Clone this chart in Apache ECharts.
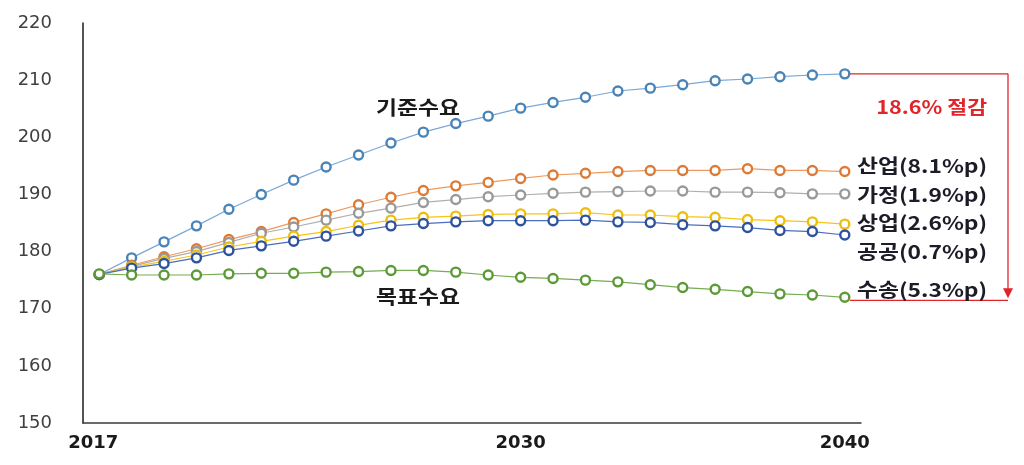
<!DOCTYPE html>
<html>
<head>
<meta charset="utf-8">
<script src="https://cdn.jsdelivr.net/npm/echarts@6/dist/echarts.min.js"></script>
<style>
html,body{margin:0;padding:0;background:#fff;}
#main{width:1024px;height:465px;}
</style>
</head>
<body>
<div id="main"></div>
<script>
const years = [2017,2018,2019,2020,2021,2022,2023,2024,2025,2026,2027,2028,2029,2030,2031,2032,2033,2034,2035,2036,2037,2038,2039,2040].map(String);
const shownYears = ['2017','2030','2040'];
const baseline = [176.0,178.9,181.7,184.5,187.4,190.0,192.5,194.8,196.9,199.0,200.9,202.4,203.7,205.1,206.1,207.0,208.1,208.6,209.2,209.9,210.2,210.6,210.9,211.1];
const industry = [176.0,177.6,179.1,180.5,182.1,183.5,185.1,186.6,188.2,189.5,190.7,191.5,192.1,192.8,193.4,193.7,194.0,194.2,194.2,194.2,194.5,194.2,194.2,194.0];
const household = [176.0,177.4,178.8,180.0,181.6,183.2,184.3,185.5,186.7,187.6,188.6,189.1,189.6,189.9,190.2,190.4,190.5,190.6,190.6,190.4,190.4,190.3,190.1,190.1];
const commercial = [176.0,177.3,178.3,179.4,180.8,181.8,182.7,183.5,184.6,185.5,186.0,186.2,186.5,186.6,186.6,186.8,186.4,186.4,186.1,186.0,185.6,185.4,185.2,184.8];
const publicSec = [176.0,177.1,177.9,178.9,180.2,181.0,181.8,182.7,183.6,184.5,184.9,185.2,185.4,185.4,185.4,185.5,185.2,185.1,184.7,184.5,184.2,183.7,183.5,182.9];
const target = [176.1,175.9,175.9,175.9,176.1,176.2,176.2,176.4,176.5,176.7,176.7,176.4,175.9,175.5,175.3,175.0,174.7,174.2,173.7,173.4,173.0,172.6,172.4,172.0];
const yTicks = {min:150, max:220, interval:10};
const rightLabels = ['산업(8.1%p)','가정(1.9%p)','상업(2.6%p)','공공(0.7%p)','수송(5.3%p)'];
const reductionText = '18.6% 절감';

const KR = '"Noto Sans CJK KR", "Noto Sans", sans-serif';
function mk(name, data, line, border){
  return {
    name, type:'line', data, symbol:'circle', symbolSize:9,
    lineStyle:{color:line, width:1.2},
    itemStyle:{color:'#ffffff', borderColor:border, borderWidth:2.4},
    emphasis:{disabled:true}, animation:false
  };
}
const chart = echarts.init(document.getElementById('main'));
chart.setOption({
  animation:false,
  backgroundColor:'#fff',
  grid:{left:83, right:163, top:23, bottom:42, containLabel:false},
  xAxis:{
    type:'category', data:years, boundaryGap:true,
    axisLine:{lineStyle:{color:'#3a3a3a', width:1.5}},
    axisTick:{show:false},
    axisLabel:{
      interval:(i,v)=>shownYears.indexOf(v)>=0,
      formatter:v=> v===shownYears[0] ? '{f|'+v+'}' : '{n|'+v+'}',
      rich:{
        f:{color:'#1a1a1a', fontWeight:'bold', fontSize:18, fontFamily:'"DejaVu Sans", sans-serif', padding:[0,12,0,0]},
        n:{color:'#1a1a1a', fontWeight:'bold', fontSize:18, fontFamily:'"DejaVu Sans", sans-serif'}
      },
      margin:11
    }
  },
  yAxis:{
    type:'value', min:yTicks.min, max:yTicks.max, interval:yTicks.interval,
    axisLine:{show:true, lineStyle:{color:'#1a1a1a', width:1.5}},
    axisTick:{show:false},
    splitLine:{show:false},
    axisLabel:{color:'#404040', fontSize:18, fontFamily:'"DejaVu Sans", sans-serif', margin:31}
  },
  series:[
    mk('기준수요', baseline, '#7AA8D6', '#4A84B6'),
    mk('산업', industry, '#EE9A5E', '#DD7A35'),
    mk('가정', household, '#AFAFAF', '#999999'),
    mk('상업', commercial, '#F5C518', '#EBBE10'),
    mk('공공', publicSec, '#4A6FBE', '#2F52A0'),
    mk('목표수요', target, '#76AD52', '#5C9A38')
  ]
});

function px(i, v){ return chart.convertToPixel({gridIndex:0}, [years[i], v]); }
const last = years.length - 1;
const pTop = px(last, baseline[last]);
const pBot = px(last, target[last]);
const xr = 1008, red = '#E0262B';
const yTop = pTop[1], yBot = pBot[1] + 3;
const labelYs = [166, 195, 223, 252, 290];
const g = [
  {type:'line', shape:{x1:pTop[0]+5, y1:yTop, x2:xr, y2:yTop}, style:{stroke:red, lineWidth:1.3}, z:10},
  {type:'line', shape:{x1:xr, y1:yTop, x2:xr, y2:yBot-10}, style:{stroke:red, lineWidth:1.3}, z:10},
  {type:'polygon', shape:{points:[[xr-5, yBot-12],[xr+5, yBot-12],[xr, yBot-2]]}, style:{fill:red}, z:10},
  {type:'line', shape:{x1:pBot[0]+5, y1:yBot, x2:xr, y2:yBot}, style:{stroke:red, lineWidth:1.3}, z:10},
  {type:'text', x:987, y:107, scaleX:1.2, style:{text:reductionText, fill:red, font:'bold 18px '+KR, align:'right', verticalAlign:'middle'}, z:11},
  {type:'text', x:418, y:108, scaleX:1.2, style:{text:'기준수요', fill:'#1a1a1a', font:'bold 19px '+KR, align:'center', verticalAlign:'middle'}, z:11},
  {type:'text', x:418, y:297, scaleX:1.2, style:{text:'목표수요', fill:'#1a1a1a', font:'bold 19px '+KR, align:'center', verticalAlign:'middle'}, z:11}
];
rightLabels.forEach((t,i)=>{
  g.push({type:'text', x:857, y:labelYs[i], scaleX:1.2, style:{text:t, fill:'#1c1c28', font:'bold 19px '+KR, align:'left', verticalAlign:'middle'}, z:11});
});
chart.setOption({graphic:g});
</script>
</body>
</html>
